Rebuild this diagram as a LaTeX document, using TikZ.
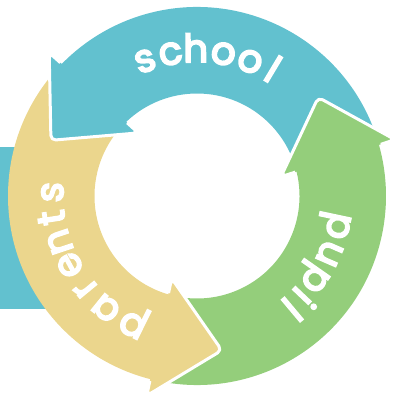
\documentclass[tikz,border=0pt]{standalone}
\usepackage{fontspec}
\setmainfont{Poppins}
\newfontfamily\arcfont{Poppins}[FakeBold=5]
\definecolor{cblue}{RGB}{98,193,207}
\definecolor{cyel}{RGB}{235,214,141}
\definecolor{cgreen}{RGB}{148,206,123}
\newcommand\ringband[3]{%
  \fill[#1] (#2:189pt) arc[start angle=#2, end angle=#3, radius=189pt]
    -- (#3:102.5pt) arc[start angle=#3, end angle=#2, radius=102.5pt] -- cycle;}
\newcommand\ringhead[2]{%
  \begin{scope}[shift={(#2:146pt)}, rotate=#2+3]
    \fill[#1, rounded corners=5pt] (60pt,0pt) -- (0pt,64pt) -- (-60pt,0pt) -- cycle;
    \draw[headline] (45pt,0pt) -- (60pt,0pt) -- (0pt,64pt) -- (-60pt,0pt) -- (-45pt,0pt);
  \end{scope}}
\begin{document}
\begin{tikzpicture}[x=1pt,y=1pt,
  headline/.style={draw=white, line width=3pt, rounded corners=5pt, line join=round},
  lbl/.style={text=white, font=\arcfont\fontsize{38.5}{38.5}\selectfont, inner sep=0pt, anchor=base}]
\useasboundingbox (-197,-201) rectangle (197,196);
\fill[cblue] (-197,-113) rectangle (-130,49);
\ringband{cblue}{17}{137}
\ringband{cyel}{137}{257}
\ringband{cgreen}{257}{377}
\ringhead{cblue}{135}
\ringhead{cyel}{255}
\ringhead{cgreen}{15}
\foreach \ch/\a [count=\i] in {s/111,c/100.5,h/90.5,o/79.5,o/68.5,l/59}
  \node[lbl, rotate=\a-90] (school\i) at (\a:134pt) {\ch};
\foreach \ch/\a [count=\i] in {p/243.5,a/231,r/219.5,e/208.5,n/198.5,t/188.5,s/178.5}
  \node[lbl, rotate=\a-90] (parents\i) at (\a:134pt) {\ch};
\foreach \ch/\a [count=\i] in {p/-12,u/-23.5,p/-35,i/-43.5,l/-50}
  \node[lbl, rotate=\a-90] (pupil\i) at (\a:134pt) {\ch};
\end{tikzpicture}
\end{document}
